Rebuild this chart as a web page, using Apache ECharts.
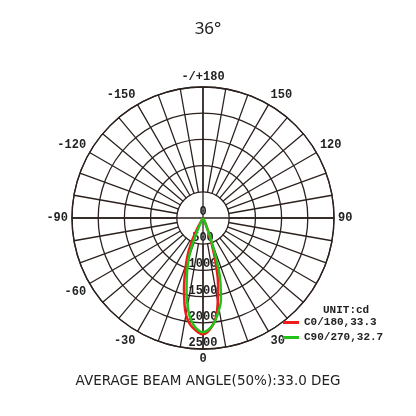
<!DOCTYPE html>
<html>
<head>
<meta charset="utf-8">
<script src="https://cdn.jsdelivr.net/npm/echarts@6/dist/echarts.min.js"></script>
<style>
  html, body { margin: 0; padding: 0; background: #fff; }
  #chart { width: 416px; height: 416px; }
</style>
</head>
<body>
<div id="chart"></div>
<script>
// photometric data, cd by gamma angle (deg)
const angles = [-90, -45, -35, -30, -27.5, -25, -22.5, -20, -17.5, -15, -12.5, -10, -7.5, -5, -2.5, 0,
  2.5, 5, 7.5, 10, 12.5, 15, 17.5, 20, 22.5, 25, 30, 35, 45, 90];
const c0_180 = [0, 0, 10, 60, 300, 560, 760, 950, 1160, 1400, 1640, 1870, 2020, 2110, 2180, 2220,
  2170, 2060, 1900, 1620, 1330, 1000, 640, 360, 200, 80, 20, 0, 0, 0];
const c90_270 = [0, 0, 0, 20, 60, 150, 450, 760, 980, 1200, 1450, 1690, 1910, 2050, 2140, 2180,
  2140, 2060, 1930, 1770, 1580, 1290, 900, 460, 150, 60, 15, 0, 0, 0];
const seriesNames = ['C0/180,33.3', 'C90/270,32.7'];
const radiusTicks = [0, 500, 1000, 1500, 2000, 2500];

const gridColor = '#2b211e';
const mono = 'Liberation Mono';

function toPoints(vals) {
  return vals.map((v, i) => [v, (angles[i] + 360) % 360]);
}

function angleLabel(v) {
  if (v === 180) return '-/+180';
  if (v % 30 !== 0 || v === 60 || v === 360) return '';
  return v > 180 ? String(v - 360) : String(v);
}

const chart = echarts.init(document.getElementById('chart'));

chart.setOption({
  animation: false,
  title: [
    {
      text: '36°',
      left: 'center',
      top: 16,
      textStyle: { fontFamily: 'Noto Sans', fontWeight: 'normal', fontSize: 17, color: '#222' }
    },
    {
      text: 'AVERAGE BEAM ANGLE(50%):33.0 DEG',
      left: 'center',
      top: 369,
      textStyle: { fontFamily: 'DejaVu Sans', fontWeight: 'normal', fontSize: 13.5, color: '#222' }
    },
    {
      text: 'UNIT:cd',
      left: 318,
      top: 300,
      textStyle: { fontFamily: mono, fontWeight: 'bold', fontSize: 11, color: '#222' }
    }
  ],
  legend: {
    orient: 'vertical',
    left: 283,
    top: 317,
    padding: 0,
    itemGap: 4,
    itemWidth: 16,
    itemHeight: 3,
    icon: 'rect',
    data: seriesNames,
    textStyle: { fontFamily: mono, fontWeight: 'bold', fontSize: 11, color: '#222' }
  },
  polar: [
    { center: [203, 218], radius: [0, 131] },
    { center: [203, 218], radius: [26, 131] }
  ],
  angleAxis: [
    {
      polarIndex: 0,
      type: 'value',
      min: 0,
      max: 360,
      interval: 90,
      startAngle: 270,
      clockwise: false,
      axisLine: { show: true, lineStyle: { color: gridColor, width: 1.3 } },
      axisTick: { show: false },
      axisLabel: { show: false },
      splitLine: { show: true, lineStyle: { color: gridColor, width: 1.3 } }
    },
    {
      polarIndex: 1,
      type: 'value',
      min: 0,
      max: 360,
      interval: 10,
      startAngle: 270,
      clockwise: false,
      axisLine: { show: false },
      axisTick: { show: false },
      axisLabel: {
        show: true,
        margin: 4,
        fontFamily: mono,
        fontWeight: 'bold',
        fontSize: 12,
        color: '#222',
        formatter: angleLabel
      },
      splitLine: { show: true, lineStyle: { color: gridColor, width: 1.3 } }
    }
  ],
  radiusAxis: [
    {
      polarIndex: 0,
      type: 'value',
      min: radiusTicks[0],
      max: radiusTicks[radiusTicks.length - 1],
      interval: 500,
      axisLine: { show: false },
      axisTick: { show: false },
      axisLabel: {
        show: true,
        margin: 0,
        align: 'center',
        verticalAlign: 'bottom',
        fontFamily: mono,
        fontWeight: 'bold',
        fontSize: 12,
        color: '#222',
        formatter: v => String(v)
      },
      splitLine: { show: true, lineStyle: { color: gridColor, width: 1.3 } }
    },
    {
      polarIndex: 1,
      type: 'value',
      min: 0,
      max: 1,
      show: false
    }
  ],
  series: [
    {
      name: seriesNames[0],
      type: 'line',
      coordinateSystem: 'polar',
      polarIndex: 0,
      smooth: true,
      showSymbol: false,
      z: 3,
      data: toPoints(c0_180),
      itemStyle: { color: '#f01b1b' },
      lineStyle: { color: '#f01b1b', width: 2.5 }
    },
    {
      name: seriesNames[1],
      type: 'line',
      coordinateSystem: 'polar',
      polarIndex: 0,
      smooth: true,
      showSymbol: false,
      z: 4,
      data: toPoints(c90_270),
      itemStyle: { color: '#23c21a' },
      lineStyle: { color: '#23c21a', width: 2.5 }
    }
  ]
});
</script>
</body>
</html>
